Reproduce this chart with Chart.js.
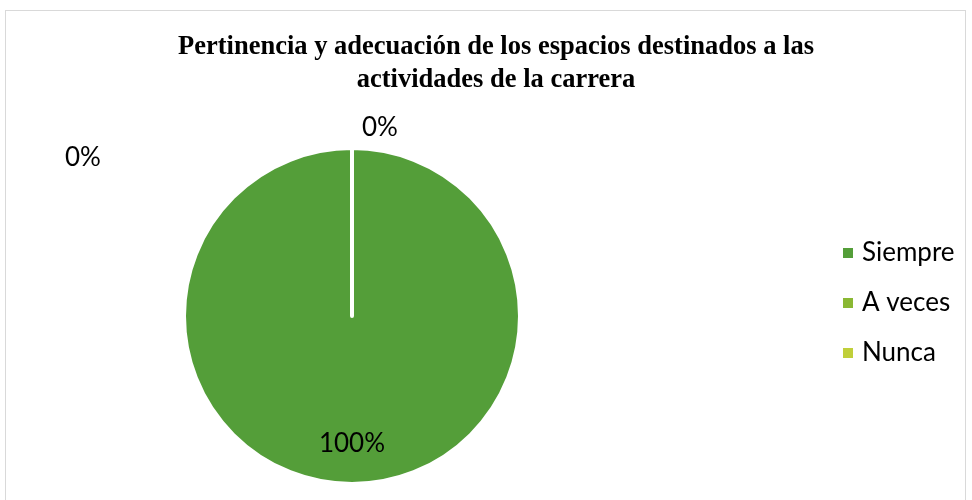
<!DOCTYPE html>
<html>
<head>
<meta charset="utf-8">
<script src="https://cdn.jsdelivr.net/npm/chart.js@4.4.0/dist/chart.umd.min.js"></script>
<style>
  html, body { margin: 0; padding: 0; background: #fff; overflow: hidden; }
  #wrap { position: relative; width: 972px; height: 500px; }
  #frame { position: absolute; left: 5px; top: 10px; width: 961px; height: 520px; border: 1px solid #d9d9d9; box-sizing: border-box; }
  canvas { position: absolute; left: 0; top: 0; }
</style>
</head>
<body>
<div id="wrap">
  <div id="frame"></div>
  <canvas id="chart" width="972" height="500"></canvas>
</div>
<script>
// chart data
const titleLines = ['Pertinencia y adecuación de los espacios destinados a las', 'actividades de la carrera'];
const categories = ['Siempre', 'A veces', 'Nunca'];
const values = [100, 0, 0];
const colors = ['#549E39', '#8AB833', '#C0CF3A'];

// how far each % label was pushed from its default spot (Excel moved the overlapping one)
const labelNudge = [[0, 0], [28, 0], [-269, 30]];

const overlay = {
  id: 'overlay',
  afterDraw(chart) {
    const ctx = chart.ctx;
    ctx.save();
    ctx.fillStyle = '#000';
    ctx.textAlign = 'center';
    ctx.textBaseline = 'middle';

    // title
    ctx.font = 'bold 26.5px "Liberation Serif"';
    titleLines.forEach((t, i) => ctx.fillText(t, 496, 47 + i * 33));

    // percentage labels
    const total = values.reduce((a, b) => a + b, 0);
    const meta = chart.getDatasetMeta(0);
    ctx.font = '26px Lato';
    meta.data.forEach((arc, i) => {
      const p = arc.getProps(['x', 'y', 'startAngle', 'endAngle', 'outerRadius'], true);
      const mid = (p.startAngle + p.endAngle) / 2;
      const k = values[i] > 0 ? 0.76 : 1.12;
      const x = p.x + Math.cos(mid) * p.outerRadius * k + labelNudge[i][0];
      const y = p.y + Math.sin(mid) * p.outerRadius * k + labelNudge[i][1];
      ctx.fillText(Math.round(values[i] / total * 100) + '%', x, y);
    });

    // legend
    const items = chart.options.plugins.legend.labels.generateLabels(chart);
    ctx.textAlign = 'left';
    ctx.font = '26px Lato';
    items.forEach((it, i) => {
      const y = 253 + i * 50;
      ctx.fillStyle = it.fillStyle;
      ctx.fillRect(843, y - 5, 10, 10);
      ctx.fillStyle = '#000';
      ctx.fillText(it.text, 862, y);
    });
    ctx.restore();
  }
};

new Chart(document.getElementById('chart'), {
  type: 'pie',
  data: {
    labels: categories,
    datasets: [{
      data: values,
      backgroundColor: colors,
      borderColor: '#fff',
      borderWidth: 4,
      borderJoinStyle: 'round'
    }]
  },
  options: {
    responsive: false,
    animation: false,
    layout: { padding: { left: 182, right: 450, top: 146, bottom: 14 } },
    plugins: {
      legend: { display: false },
      tooltip: { enabled: false },
      title: { display: false }
    }
  },
  plugins: [overlay]
});
</script>
</body>
</html>
